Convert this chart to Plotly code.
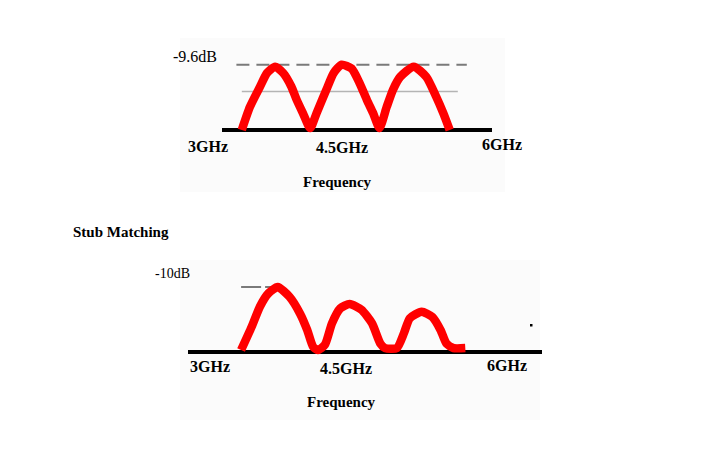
import plotly.graph_objects as go

# ---- data: frequency (GHz) vs. normalised level (1 = marked dB level) ----
top_freq = [3.22, 3.31, 3.42, 3.50, 3.59, 3.68, 3.77, 3.83, 3.90, 3.98,
            4.05, 4.16, 4.24, 4.33, 4.44, 4.53, 4.61, 4.68, 4.75,
            4.83, 4.90, 4.98, 5.13, 5.27, 5.38, 5.46, 5.53]
top_level = [0.0, 0.36, 0.67, 0.89, 0.99, 0.89, 0.68, 0.47, 0.26, 0.03,
             0.26, 0.63, 0.89, 1.02, 0.96, 0.73, 0.47, 0.26, 0.03,
             0.36, 0.63, 0.83, 0.99, 0.83, 0.52, 0.26, 0.0]

bot_freq = [3.45, 3.54, 3.61, 3.68, 3.76, 3.86, 3.95, 4.01, 4.06, 4.10,
            4.16, 4.22, 4.29, 4.37, 4.47, 4.56, 4.63, 4.67, 4.77, 4.83,
            4.88, 4.98, 5.07, 5.14, 5.19, 5.25, 5.35]
bot_level = [0.03, 0.39, 0.70, 0.90, 1.00, 0.85, 0.59, 0.34, 0.08, 0.03,
             0.11, 0.44, 0.67, 0.74, 0.65, 0.44, 0.13, 0.06, 0.06, 0.29,
             0.52, 0.62, 0.54, 0.34, 0.13, 0.06, 0.06]

top_dash_freq = [3.16, 5.72]
top_dash_level = [1.02, 1.02]
top_ref_freq = [3.22, 5.62]
top_ref_level = [0.60, 0.60]
axis_freq = [3.0, 6.0]
axis_level = [0.0, 0.0]
bot_dash_freq = [3.45, 3.72]
bot_dash_level = [1.0, 1.0]

tick_labels = ["3GHz", "4.5GHz", "6GHz"]
top_db_label = "-9.6dB"
bot_db_label = "-10dB"
x_title = "Frequency"
bot_title = "Stub Matching"

# page has an 8px body margin, so the figure starts at (8, 8) in the window
OFF = 8
W, H = 720 - OFF, 450 - OFF

fig = go.Figure()

# top panel
fig.add_trace(go.Scatter(x=top_dash_freq, y=top_dash_level, mode="lines",
                         line=dict(color="#7a7a7a", width=2, dash="13px,7px"),
                         xaxis="x", yaxis="y", hoverinfo="skip"))
fig.add_trace(go.Scatter(x=top_ref_freq, y=top_ref_level, mode="lines",
                         line=dict(color="#b4b4b4", width=1.5),
                         xaxis="x", yaxis="y", hoverinfo="skip"))
fig.add_trace(go.Scatter(x=axis_freq, y=axis_level, mode="lines",
                         line=dict(color="black", width=4),
                         xaxis="x", yaxis="y", hoverinfo="skip"))
fig.add_trace(go.Scatter(x=top_freq, y=top_level, mode="lines",
                         line=dict(color="#ff0000", width=8.5, shape="spline", smoothing=0.6),
                         xaxis="x", yaxis="y"))

# bottom panel
fig.add_trace(go.Scatter(x=bot_dash_freq, y=bot_dash_level, mode="lines",
                         line=dict(color="#7a7a7a", width=2, dash="20px,4px"),
                         xaxis="x2", yaxis="y2", hoverinfo="skip"))
fig.add_trace(go.Scatter(x=axis_freq, y=axis_level, mode="lines",
                         line=dict(color="black", width=4),
                         xaxis="x2", yaxis="y2", hoverinfo="skip"))
fig.add_trace(go.Scatter(x=bot_freq, y=bot_level, mode="lines",
                         line=dict(color="#ff0000", width=8.5, shape="spline", smoothing=0.6),
                         xaxis="x2", yaxis="y2"))

# window-pixel anchors -> axis ranges (in figure pixels)
SPLIT = 225 - OFF  # figure row separating the two panels
# top: 3 GHz at px 222, 6 GHz at px 492; level 0 at py 130, 1 at py 66
tx0, tx1 = 222 - OFF, 492 - OFF
ts = (tx1 - tx0) / 3.0
top_xr = [3 - tx0 / ts, 3 + (W - tx0) / ts]
ty0, tys = 130 - OFF, 64.0
top_yr = [(ty0 - SPLIT) / tys, ty0 / tys]
# bottom: 3 GHz at px 188, 6 GHz at px 542; level 0 at py 352, 1 at py 287
bx0, bx1 = 188 - OFF, 542 - OFF
bs = (bx1 - bx0) / 3.0
bot_xr = [3 - bx0 / bs, 3 + (W - bx0) / bs]
by0, bys = 352 - OFF, 65.0
bot_yr = [(by0 - H) / bys, (by0 - SPLIT) / bys]
ysplit = 1 - SPLIT / H

hidden = dict(visible=False, fixedrange=True)
fig.update_layout(
    width=W, height=H,
    margin=dict(l=0, r=0, t=0, b=0),
    paper_bgcolor="white", plot_bgcolor="rgba(0,0,0,0)",
    showlegend=False,
    xaxis=dict(domain=[0, 1], range=top_xr, anchor="y", **hidden),
    yaxis=dict(domain=[ysplit, 1], range=top_yr, anchor="x", **hidden),
    xaxis2=dict(domain=[0, 1], range=bot_xr, anchor="y2", **hidden),
    yaxis2=dict(domain=[0, ysplit], range=bot_yr, anchor="x2", **hidden),
)

def px(x):
    return (x - OFF) / W

def py(y):
    return 1 - (y - OFF) / H

# faint sketch backgrounds
fig.add_shape(type="rect", xref="paper", yref="paper", x0=px(180), x1=px(505),
              y0=py(192), y1=py(38), fillcolor="#fbfbfb", line=dict(width=0), layer="below")
fig.add_shape(type="rect", xref="paper", yref="paper", x0=px(180), x1=px(540),
              y0=py(420), y1=py(260), fillcolor="#fbfbfb", line=dict(width=0), layer="below")

serif = "Liberation Serif, Times New Roman, serif"

def label(text, cx, cy, size, bold=False):
    fig.add_annotation(xref="paper", yref="paper", x=px(cx), y=py(cy),
                       text=f"<b>{text}</b>" if bold else text, showarrow=False,
                       xanchor="center", yanchor="middle",
                       font=dict(family=serif, size=size, color="black"))

label(top_db_label, 195, 56, 16)
for t, cx, cy in zip(tick_labels, [207.5, 341.7, 501.5], [146, 147.5, 144]):
    label(t, cx, cy, 16, bold=True)
label(x_title, 337, 182, 15, bold=True)

label(bot_title, 121.5, 232, 15, bold=True)
label(bot_db_label, 172, 273, 14)
for t, cx, cy in zip(tick_labels, [210, 346, 507], [366.5, 368.5, 365]):
    label(t, cx, cy, 16, bold=True)
label(x_title, 341, 402, 15, bold=True)

# stray speck in the original sketch
fig.add_shape(type="rect", xref="paper", yref="paper", x0=px(530), x1=px(532.5),
              y0=py(326.5), y1=py(324), fillcolor="black", line=dict(width=0))

fig.write_html("out.html")
